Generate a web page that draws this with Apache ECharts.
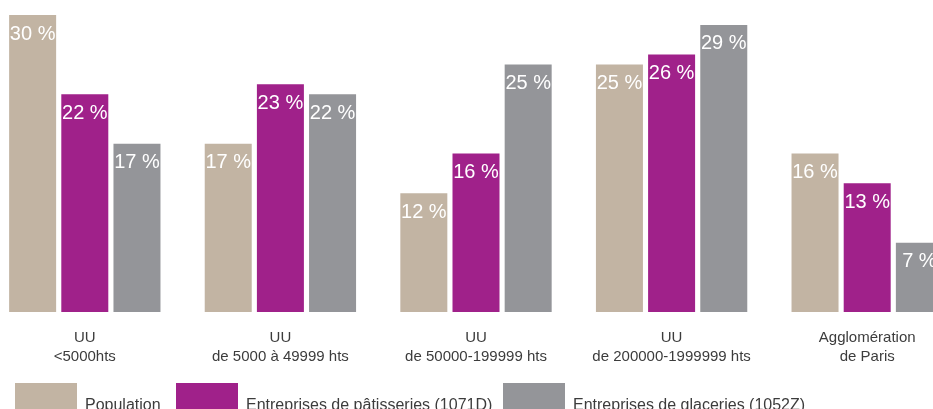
<!DOCTYPE html>
<html>
<head>
<meta charset="utf-8">
<script src="https://cdn.jsdelivr.net/npm/echarts@6/dist/echarts.min.js"></script>
<style>
  html, body { margin: 0; padding: 0; background: #fff; }
  #chart { width: 933px; height: 409px; }
</style>
</head>
<body>
<div id="chart"></div>
<script>
// catégories (unités urbaines)
const categories = [
  'UU\n<5000hts',
  'UU\nde 5000 à 49999 hts',
  'UU\nde 50000-199999 hts',
  'UU\nde 200000-1999999 hts',
  'Agglomération\nde Paris'
];
const seriesNames = [
  'Population',
  'Entreprises de pâtisseries (1071D)',
  'Entreprises de glaceries (1052Z)'
];
const population = [30, 17, 12, 25, 16];
const patisseries = [22, 23, 16, 26, 13];
const glaceries = [17, 22, 25, 29, 7];
const colors = ['#c2b4a3', '#a0218a', '#949599'];

const font = 'Liberation Sans, Arial, sans-serif';
const chart = echarts.init(document.getElementById('chart'));

const values = [population, patisseries, glaceries];
const legendLeft = [15, 176, 503];

chart.setOption({
  animation: false,
  grid: { left: -13, right: -32, top: 15, bottom: 97, outerBoundsMode: 'none' },
  xAxis: {
    type: 'category',
    data: categories,
    axisLine: { show: false },
    axisTick: { show: false },
    axisLabel: {
      interval: 0,
      margin: 16,
      color: '#3c3c3c',
      fontFamily: font,
      fontSize: 15,
      lineHeight: 19
    }
  },
  yAxis: {
    type: 'value',
    min: 0,
    max: 30,
    show: false
  },
  // la légende est coupée en bas de l'image
  legend: seriesNames.map((name, i) => ({
    data: [name],
    left: legendLeft[i],
    top: 383,
    padding: 0,
    icon: 'rect',
    itemWidth: 62,
    itemHeight: 46,
    textStyle: {
      color: '#3c3c3c',
      fontFamily: font,
      fontSize: 16,
      padding: [0, 0, 0, 3]
    }
  })),
  series: seriesNames.map((name, i) => ({
    name: name,
    type: 'bar',
    data: values[i],
    barWidth: 47,
    barGap: '11%',
    itemStyle: { color: colors[i] },
    label: {
      show: true,
      position: 'insideTop',
      distance: 9,
      formatter: '{c} %',
      color: '#fff',
      fontFamily: font,
      fontSize: 20
    }
  }))
});
</script>
</body>
</html>
